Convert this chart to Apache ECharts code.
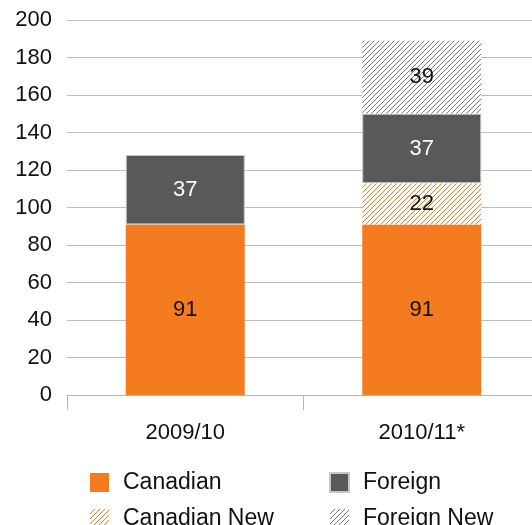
<!DOCTYPE html>
<html>
<head>
<meta charset="utf-8">
<script src="https://cdn.jsdelivr.net/npm/echarts@6/dist/echarts.min.js"></script>
<style>
  html, body { margin: 0; padding: 0; background: #fff; }
  #chart { width: 532px; height: 525px; }
</style>
</head>
<body>
<div id="chart"></div>
<script>
const categories = ['2009/10', '2010/11*'];
const canadian = [91, 91];
const canadianNew = ['-', 22];
const foreign = [37, 37];
const foreignNew = ['-', 39];
const yTicks = [0, 200, 20]; // min, max, step

const ORANGE = '#f47b20';
const DARK = '#58595b';
const FONT = 'Liberation Sans, Arial, sans-serif';

// diagonal hatch fill used by the "New" series
function hatch(color) {
  const size = 5;
  const c = document.createElement('canvas');
  c.width = size;
  c.height = size;
  const ctx = c.getContext('2d');
  ctx.fillStyle = '#fff';
  ctx.fillRect(0, 0, size, size);
  ctx.strokeStyle = color;
  ctx.lineWidth = 1;
  ctx.beginPath();
  ctx.moveTo(0, size);
  ctx.lineTo(size, 0);
  ctx.moveTo(-1, 1);
  ctx.lineTo(1, -1);
  ctx.moveTo(size - 1, size + 1);
  ctx.lineTo(size + 1, size - 1);
  ctx.stroke();
  return { image: c, repeat: 'repeat' };
}

const chart = echarts.init(document.getElementById('chart'), null, { renderer: 'canvas' });

function barLabel(color) {
  return {
    show: true,
    position: 'inside',
    color: color,
    fontSize: 22,
    fontFamily: FONT,
  };
}

function legendAt(left, names) {
  return {
    orient: 'vertical',
    left: left,
    top: 471,
    height: 60,
    padding: 0,
    itemWidth: 19,
    itemHeight: 19,
    itemGap: 13,
    icon: 'rect',
    textStyle: { fontSize: 23, color: '#111', fontFamily: FONT, padding: [0, 0, 0, 9] },
    data: names,
  };
}

const option = {
  animation: false,
  textStyle: { fontFamily: FONT },
  grid: { left: 67, top: 20, width: 473, height: 375, outerBoundsMode: 'none' },
  legend: [
    legendAt(90, ['Canadian', 'Canadian New']),
    legendAt(329, ['Foreign', 'Foreign New']),
  ],
  xAxis: {
    type: 'category',
    data: categories,
    boundaryGap: true,
    axisLine: { show: true, lineStyle: { color: '#b5b5b5', width: 1 } },
    axisTick: { show: true, length: 15, interval: 0, lineStyle: { color: '#b5b5b5' } },
    axisLabel: { fontSize: 22, color: '#111', margin: 27, fontFamily: FONT },
  },
  yAxis: {
    type: 'value',
    min: yTicks[0],
    max: yTicks[1],
    interval: yTicks[2],
    axisLine: { show: false },
    axisTick: { show: false },
    axisLabel: { fontSize: 22, color: '#111', margin: 15, fontFamily: FONT },
    splitLine: { lineStyle: { color: '#bdbdbd', width: 1 } },
  },
  series: [
    {
      name: 'Canadian',
      type: 'bar',
      stack: 'total',
      barWidth: 119,
      data: canadian,
      itemStyle: { color: ORANGE },
      label: barLabel('#111'),
    },
    {
      name: 'Canadian New',
      type: 'bar',
      stack: 'total',
      barWidth: 119,
      data: canadianNew,
      itemStyle: { color: hatch(ORANGE) },
      label: barLabel('#111'),
    },
    {
      name: 'Foreign',
      type: 'bar',
      stack: 'total',
      barWidth: 119,
      data: foreign,
      itemStyle: { color: DARK, borderColor: '#c8c8c8', borderWidth: 1 },
      label: barLabel('#fff'),
    },
    {
      name: 'Foreign New',
      type: 'bar',
      stack: 'total',
      barWidth: 119,
      data: foreignNew,
      itemStyle: { color: hatch('#7a7a7a') },
      label: barLabel('#111'),
    },
  ],
};

chart.setOption(option);
</script>
</body>
</html>
